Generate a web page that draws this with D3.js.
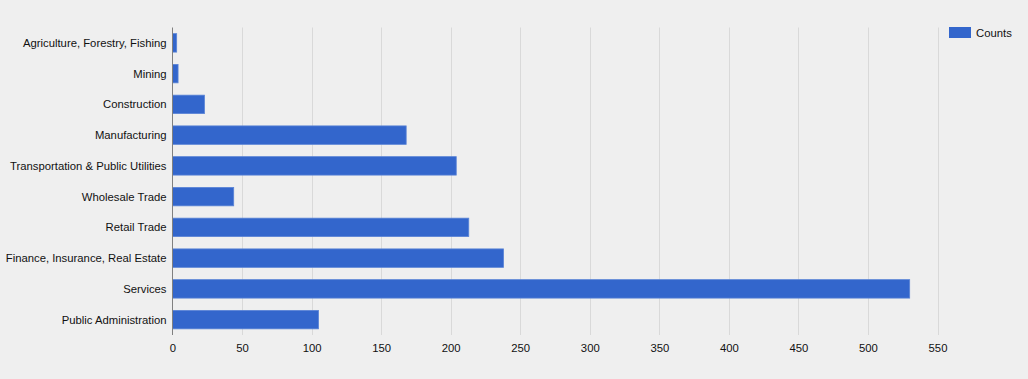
<!DOCTYPE html>
<html><head><meta charset="utf-8">
<script src="https://cdn.jsdelivr.net/npm/d3@7"></script>
<style>
html,body{margin:0;padding:0;background:#efefef;}
svg{display:block;font-family:"Liberation Sans",Arial,sans-serif;}
</style></head>
<body>
<svg id="chart" width="1028" height="379"></svg>
<script>
const categories = ["Agriculture, Forestry, Fishing","Mining","Construction","Manufacturing","Transportation & Public Utilities","Wholesale Trade","Retail Trade","Finance, Insurance, Real Estate","Services","Public Administration"];
const counts = [3, 4, 23, 168, 204, 44, 213, 238, 530, 105];
const tickValues = [0,50,100,150,200,250,300,350,400,450,500,550];
const seriesName = "Counts";

(function(){
const FS = 11.3;
const svg = d3.select("#chart");
svg.append("rect").attr("width",1028).attr("height",379).attr("fill","#efefef");
const pLeft = 172.5, pRight = 937.5, pTop = 27.5, pBottom = 335;
const x = d3.scaleLinear().domain([0,550]).range([pLeft,pRight]);
const y = d3.scaleBand().domain(categories).range([pTop,pBottom]).paddingInner(0.4).paddingOuter(0.2);

// gridlines
svg.append("g").selectAll("line").data(tickValues.filter(d=>d>0)).join("line")
  .attr("x1",d=>Math.round(x(d))+0.5).attr("x2",d=>Math.round(x(d))+0.5)
  .attr("y1",pTop).attr("y2",pBottom)
  .attr("stroke","#d9d9d9").attr("stroke-width",1);

// bars
svg.append("g").selectAll("rect").data(categories).join("rect")
  .attr("x",x(0)).attr("y",d=>y(d))
  .attr("width",(d,i)=>x(counts[i])-x(0)).attr("height",y.bandwidth())
  .attr("fill","#3366cc").attr("stroke","#5a84d6").attr("stroke-width",0.8);

// baseline
svg.append("line").attr("x1",pLeft).attr("x2",pLeft).attr("y1",pTop).attr("y2",pBottom)
  .attr("stroke","#808080").attr("stroke-width",1);

// x axis labels
const xAxis = d3.axisBottom(x).tickValues(tickValues).tickSize(0).tickPadding(0);
const gx = svg.append("g").attr("transform",`translate(0,${pBottom})`).call(xAxis);
gx.select(".domain").remove();
gx.selectAll("text").attr("dy",null).attr("y",17).attr("font-size",FS)
  .attr("font-family","'Liberation Sans',Arial,sans-serif").attr("fill","#111");

// y axis labels
const yAxis = d3.axisLeft(y).tickSize(0).tickPadding(6);
const gy = svg.append("g").attr("transform",`translate(${pLeft},0)`).call(yAxis);
gy.select(".domain").remove();
gy.selectAll("text").attr("font-size",FS).attr("dy","0.36em")
  .attr("font-family","'Liberation Sans',Arial,sans-serif").attr("fill","#111");

// legend
const lg = svg.append("g").attr("transform","translate(949,27)");
lg.append("rect").attr("width",22).attr("height",11).attr("fill","#3366cc");
lg.append("text").attr("x",27).attr("y",10).attr("font-size",FS).attr("fill","#111")
  .attr("font-family","'Liberation Sans',Arial,sans-serif").text(seriesName);
})();
</script>
</body></html>
